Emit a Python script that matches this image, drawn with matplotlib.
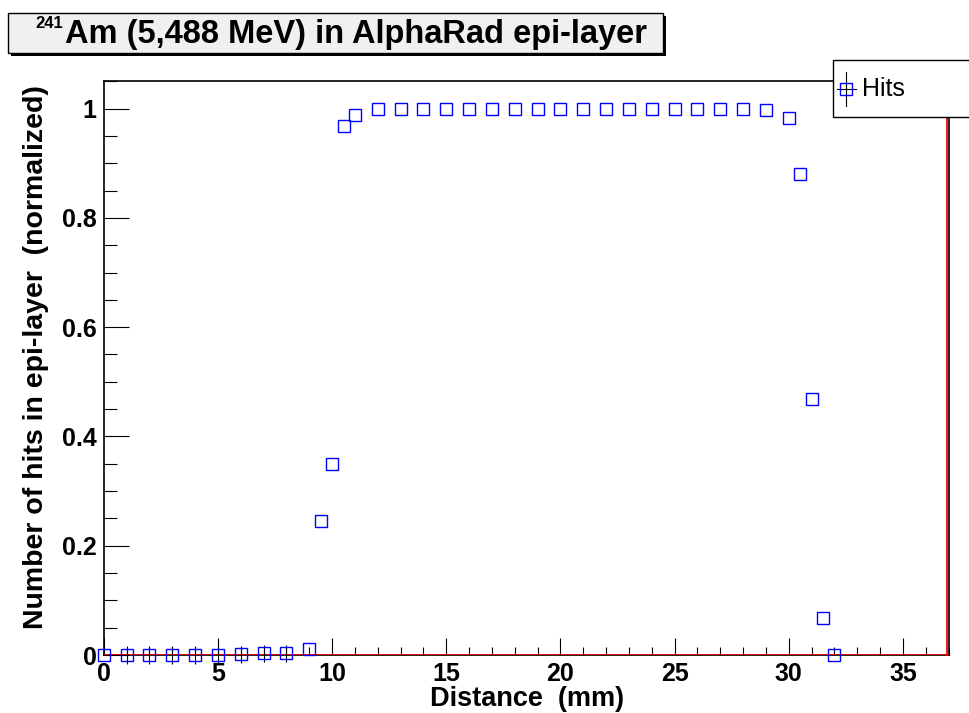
import matplotlib
matplotlib.use('Agg')
import matplotlib.pyplot as plt
import matplotlib.transforms as mtransforms
from matplotlib.patches import Rectangle
from matplotlib.lines import Line2D
from matplotlib.ticker import MultipleLocator

# distance (mm) and normalized hits
distance = [0, 1, 2, 3, 4, 5, 6, 7, 8, 9, 9.5, 10, 10.5, 11,
            12, 13, 14, 15, 16, 17, 18, 19, 20, 21, 22, 23, 24, 25, 26, 27, 28, 29,
            30, 30.5, 31, 31.5, 32]
hits = [0.0, 0.0, 0.0, 0.0, 0.0, 0.0, 0.001, 0.003, 0.003, 0.011, 0.245, 0.35, 0.969, 0.989,
        1.0, 1.0, 1.0, 1.0, 1.0, 1.0, 1.0, 1.0, 1.0, 1.0, 1.0, 1.0, 1.0, 1.0, 1.0, 1.0, 1.0, 0.998,
        0.983, 0.881, 0.469, 0.068, 0.0]
errors = [0.0, 0.016, 0.016, 0.016, 0.016, 0.016, 0.016, 0.016, 0.016, 0.0, 0.0, 0.0, 0.0, 0.0,
          0, 0, 0, 0, 0, 0, 0, 0, 0, 0, 0, 0, 0, 0, 0, 0, 0, 0,
          0.0, 0.0, 0.0, 0.0, 0.0]
x_max = 37

title_sup = "241"
title = "Am (5,488 MeV) in AlphaRad epi-layer"
xlabel = "Distance  (mm)"
ylabel = "Number of hits in epi-layer  (normalized)"

plt.rcParams['font.family'] = ['Liberation Sans', 'DejaVu Sans']

fig = plt.figure(figsize=(9.7, 7.13), dpi=100)
ax = fig.add_axes([0.107, 0.0813, 0.871, 0.8047])

ax.errorbar(distance, hits, yerr=errors, fmt='s', mfc='none', mec='blue', mew=1.0,
            ms=8.5, ecolor='black', elinewidth=0.8, capsize=0, clip_on=False, zorder=4)

# red histogram outline along bottom and right edge
ax.axhline(0, color='red', lw=1.3, zorder=3)
shift = mtransforms.ScaledTranslation(-2 / 100, 0, fig.dpi_scale_trans)
ax.plot([x_max, x_max], [0, 1], color='red', lw=1.3, zorder=3,
        transform=ax.get_xaxis_transform() + shift, clip_on=False)

ax.set_xlim(0, x_max)
ax.set_ylim(0, 1.05)
ax.xaxis.set_major_locator(MultipleLocator(5))
ax.xaxis.set_minor_locator(MultipleLocator(1))
ax.yaxis.set_major_locator(MultipleLocator(0.2))
ax.yaxis.set_minor_locator(MultipleLocator(0.05))
ax.yaxis.set_major_formatter(matplotlib.ticker.FuncFormatter(lambda v, p: '%g' % round(v, 2)))

ax.tick_params(axis='x', which='major', direction='in', length=12, width=0.8, pad=5,
               labelsize=18)
ax.tick_params(axis='x', which='minor', direction='in', length=6, width=0.8)
ax.tick_params(axis='y', which='major', direction='in', length=18, width=0.8, pad=5,
               labelsize=18)
ax.tick_params(axis='y', which='minor', direction='in', length=9, width=0.8)
for lab in ax.get_xticklabels() + ax.get_yticklabels():
    lab.set_fontweight('bold')
for sp in ax.spines.values():
    sp.set_linewidth(1.2)

fig.text(0.543, 0.002, xlabel, fontsize=19.5, fontweight='bold', ha='center', va='bottom')
fig.text(0.037, 0.499, ylabel, fontsize=20.5, fontweight='bold', ha='center', va='center',
         rotation=90)

# title box with shadow
W, H = 970.0, 713.0
fig.add_artist(Rectangle((11 / W, 1 - 55.5 / H), 655 / W, 40 / H, transform=fig.transFigure,
                         facecolor='black', edgecolor='none'))
fig.add_artist(Rectangle((8 / W, 1 - 52.7 / H), 655 / W, 40 / H, transform=fig.transFigure,
                         facecolor='#f0f0f0', edgecolor='black', lw=1.0))
fig.text(35 / W, 1 - 28 / H, title_sup, fontsize=12, fontweight='bold', ha='left',
         va='baseline')
fig.text(65 / W, 1 - 43.5 / H, title, fontsize=23.5, fontweight='bold', ha='left',
         va='baseline')

# legend box
fig.add_artist(Rectangle((833 / W, 1 - 117 / H), 150 / W, 57 / H, transform=fig.transFigure,
                         facecolor='white', edgecolor='black', lw=1.0, zorder=5))
fig.add_artist(Line2D([846 / W, 846 / W], [1 - 72 / H, 1 - 106 / H], transform=fig.transFigure,
                      color='black', lw=0.8, zorder=6))
fig.add_artist(Line2D([837 / W, 856 / W], [1 - 89 / H, 1 - 89 / H], transform=fig.transFigure,
                      color='black', lw=0.8, zorder=6))
fig.add_artist(Line2D([846 / W], [1 - 89 / H], transform=fig.transFigure, marker='s',
                      mfc='none', mec='blue', mew=1.0, ms=8.5, zorder=7))
fig.text(862 / W, 1 - 89 / H, "Hits", fontsize=18, ha='left', va='center', zorder=7)

fig.savefig('out.png', dpi=100)
